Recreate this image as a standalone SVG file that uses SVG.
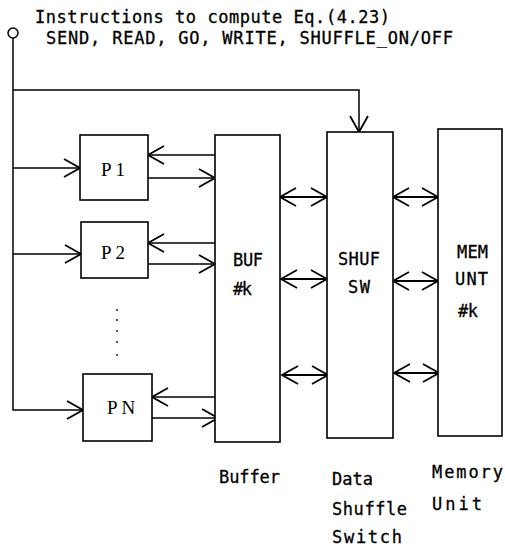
<svg xmlns="http://www.w3.org/2000/svg" width="505" height="547" viewBox="0 0 505 547">
<style>
.ln{fill:none;stroke:#000;stroke-width:1.5}
.dl{fill:none;stroke:#000;stroke-width:2}
.bx{fill:#fff;stroke:#000;stroke-width:1.6}
.t{font-family:"DejaVu Sans Mono","Liberation Mono",monospace;font-size:17px;fill:#000;stroke:#000;stroke-width:0.3}
.p{font-family:"Liberation Serif","Times New Roman",serif;font-size:19px;fill:#000}
</style>
<defs>
<marker id="a" markerUnits="userSpaceOnUse" viewBox="0 0 18 20" markerWidth="18" markerHeight="20" refX="17" refY="10" orient="auto-start-reverse">
<path d="M1,1 L17,10 L1,19" fill="none" stroke="#000" stroke-width="1.8"/>
</marker>
</defs>
<rect width="505" height="547" fill="#fff"/>
<g id="header">
<text class="t" x="35" y="23" textLength="355" lengthAdjust="spacing">Instructions to compute Eq.(4.23)</text>
<text class="t" x="46" y="44" textLength="407" lengthAdjust="spacing">SEND, READ, GO, WRITE, SHUFFLE_ON/OFF</text>
<circle cx="13" cy="33" r="5" fill="#fff" stroke="#000" stroke-width="1.5"/>
</g>
<g id="connectors">
<polyline class="ln" points="13,38 13,410 83,410" marker-end="url(#a)"/>
<polyline class="ln" points="13,90 359,90 359,132" marker-end="url(#a)"/>
<line class="ln" x1="13" y1="168" x2="80" y2="168" marker-end="url(#a)"/>
<line class="ln" x1="13" y1="254" x2="81" y2="254" marker-end="url(#a)"/>
<line class="ln" x1="215" y1="155" x2="148" y2="155" marker-end="url(#a)"/>
<line class="ln" x1="148" y1="178" x2="215" y2="178" marker-end="url(#a)"/>
<line class="ln" x1="215" y1="243" x2="148" y2="243" marker-end="url(#a)"/>
<line class="ln" x1="148" y1="264" x2="215" y2="264" marker-end="url(#a)"/>
<line class="ln" x1="217" y1="397" x2="152" y2="397" marker-end="url(#a)"/>
<line class="ln" x1="152" y1="418" x2="218" y2="418" marker-end="url(#a)"/>
<line class="dl" x1="280" y1="197" x2="327" y2="197" marker-start="url(#a)" marker-end="url(#a)"/>
<line class="dl" x1="393" y1="197" x2="438" y2="197" marker-start="url(#a)" marker-end="url(#a)"/>
<line class="dl" x1="281" y1="279" x2="327" y2="279" marker-start="url(#a)" marker-end="url(#a)"/>
<line class="dl" x1="393" y1="281" x2="438" y2="281" marker-start="url(#a)" marker-end="url(#a)"/>
<line class="dl" x1="282" y1="375" x2="328" y2="375" marker-start="url(#a)" marker-end="url(#a)"/>
<line class="dl" x1="394" y1="373" x2="439" y2="373" marker-start="url(#a)" marker-end="url(#a)"/>
</g>
<g id="P1">
<rect class="bx" x="80" y="135" width="68" height="65"/>
<text class="p" x="101" y="176">P 1</text>
</g>
<g id="P2">
<rect class="bx" x="81" y="222" width="67" height="56"/>
<text class="p" x="101" y="259">P 2</text>
</g>
<g id="dots">
<circle cx="117" cy="310" r="0.9"/>
<circle cx="117" cy="320" r="0.9"/>
<circle cx="117" cy="331" r="0.9"/>
<circle cx="117" cy="342" r="0.9"/>
<circle cx="117" cy="355" r="0.9"/>
</g>
<g id="PN">
<rect class="bx" x="83" y="374" width="69" height="67"/>
<text class="p" x="107" y="414">P N</text>
</g>
<g id="BUF">
<rect class="bx" x="215" y="135" width="65" height="307"/>
<text class="t" x="233" y="266" textLength="30" lengthAdjust="spacing">BUF</text>
<text class="t" x="233" y="295" textLength="19" lengthAdjust="spacing">#k</text>
</g>
<g id="SHUF">
<rect class="bx" x="327" y="132" width="66" height="306"/>
<text class="t" x="338" y="265" textLength="42" lengthAdjust="spacing">SHUF</text>
<text class="t" x="348" y="293" textLength="22" lengthAdjust="spacing">SW</text>
</g>
<g id="MEM">
<rect class="bx" x="438" y="129" width="64" height="307"/>
<text class="t" x="457" y="258" textLength="31" lengthAdjust="spacing">MEM</text>
<text class="t" x="455" y="285" textLength="33" lengthAdjust="spacing">UNT</text>
<text class="t" x="458" y="317" textLength="20" lengthAdjust="spacing">#k</text>
</g>
<g id="captions">
<text class="t" x="219" y="483" textLength="61" lengthAdjust="spacing">Buffer</text>
<text class="t" x="332" y="485" textLength="41" lengthAdjust="spacing">Data</text>
<text class="t" x="332" y="515" textLength="75" lengthAdjust="spacing">Shuffle</text>
<text class="t" x="332" y="543" textLength="70" lengthAdjust="spacing">Switch</text>
<text class="t" x="432" y="478" textLength="71" lengthAdjust="spacing">Memory</text>
<text class="t" x="432" y="510" textLength="50" lengthAdjust="spacing">Unit</text>
</g>
</svg>
